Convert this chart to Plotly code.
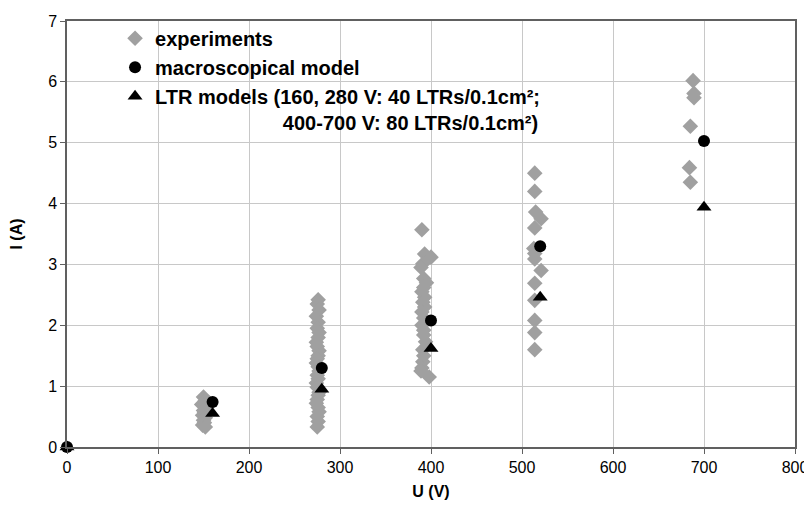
import plotly.graph_objects as go

# Experiments (U in V, I in A)
exp_u = [150, 152, 148, 153, 150, 151, 149, 152, 150, 151, 149, 152,
         276, 275, 277, 274, 276, 275, 277, 276, 274, 275, 277, 276, 275, 274, 276,
         277, 275, 276, 274, 275, 277, 276, 275, 274, 276, 277, 275, 276, 275,
         390, 393, 400, 391, 389, 392, 395, 392, 390, 393, 391, 393, 390, 392, 390,
         392, 392, 394, 391, 392, 391, 390, 389, 398,
         514, 514, 515, 521, 514, 513, 514, 514, 521, 514, 514, 514, 514, 514,
         688, 689, 689, 685, 684, 685]
exp_i = [0.82, 0.76, 0.70, 0.65, 0.60, 0.57, 0.52, 0.48, 0.44, 0.40, 0.36, 0.33,
         2.42, 2.35, 2.25, 2.15, 2.05, 1.95, 1.88, 1.80, 1.72, 1.65, 1.58, 1.50, 1.45, 1.38, 1.32,
         1.25, 1.18, 1.12, 1.05, 0.98, 0.90, 0.85, 0.78, 0.72, 0.65, 0.58, 0.50, 0.42, 0.33,
         3.57, 3.17, 3.12, 3.01, 2.95, 2.77, 2.70, 2.62, 2.55, 2.46, 2.38, 2.30, 2.22, 2.12, 2.00,
         1.92, 1.84, 1.73, 1.60, 1.50, 1.40, 1.30, 1.25, 1.15,
         4.50, 4.20, 3.86, 3.75, 3.60, 3.26, 3.18, 3.09, 2.90, 2.69, 2.41, 2.08, 1.88, 1.60,
         6.02, 5.81, 5.74, 5.27, 4.59, 4.35]

# Models
model_u = [0, 160, 280, 400, 520, 700]
macro_i = [0, 0.74, 1.30, 2.08, 3.30, 5.03]
ltr_i = [0, 0.55, 0.95, 1.62, 2.46, 3.94]

x_ticks = [0, 100, 200, 300, 400, 500, 600, 700, 800]
y_ticks = [0, 1, 2, 3, 4, 5, 6, 7]

NB = "\u00a0"
ltr_name = ("LTR models (160, 280 V: 40 LTRs/0.1cm²;<br>" + NB * 23 +
            "400-700 V: 80 LTRs/0.1cm²)")

fig = go.Figure()
fig.add_trace(go.Scatter(x=exp_u, y=exp_i, mode="markers", name="experiments",
                         legendgroup="a",
                         marker=dict(symbol="diamond", size=12, color="#a0a0a0")))
fig.add_trace(go.Scatter(x=model_u, y=macro_i, mode="markers", name="macroscopical model",
                         legendgroup="b", cliponaxis=False,
                         marker=dict(symbol="circle", size=12, color="black")))
fig.add_trace(go.Scatter(x=model_u, y=ltr_i, mode="markers", name=ltr_name,
                         legendgroup="c", cliponaxis=False,
                         marker=dict(symbol="triangle-up", size=13, color="black")))

axis_common = dict(
    showline=True, linecolor="#606060", linewidth=1.5, mirror=True,
    showgrid=True, gridcolor="#c8c8c8", gridwidth=1,
    ticks="outside", ticklen=5, tickcolor="#606060",
    tickfont=dict(family="Liberation Sans, Arial", size=16, color="black"),
    zeroline=False, automargin=False,
)

fig.update_layout(
    width=804, height=498,
    margin=dict(l=59, r=17, t=12, b=59),
    paper_bgcolor="white", plot_bgcolor="white",
    font=dict(family="Liberation Sans, Arial", color="black"),
    showlegend=True,
    legend=dict(x=0.066, y=1.003, xanchor="left", yanchor="top",
                bgcolor="rgba(0,0,0,0)", valign="top", tracegroupgap=0,
                font=dict(family="Liberation Sans, Arial", size=20, color="black", weight="bold")),
    xaxis=dict(range=[0, 800], tickvals=x_ticks,
               title=dict(text="U (V)", standoff=11,
                          font=dict(family="Liberation Sans, Arial", size=16, weight="bold")),
               **axis_common),
    yaxis=dict(range=[0, 7], tickvals=y_ticks,
               title=dict(text="I (A)", standoff=22,
                          font=dict(family="Liberation Sans, Arial", size=16, weight="bold")),
               **axis_common),
)

fig.write_html("out.html")
